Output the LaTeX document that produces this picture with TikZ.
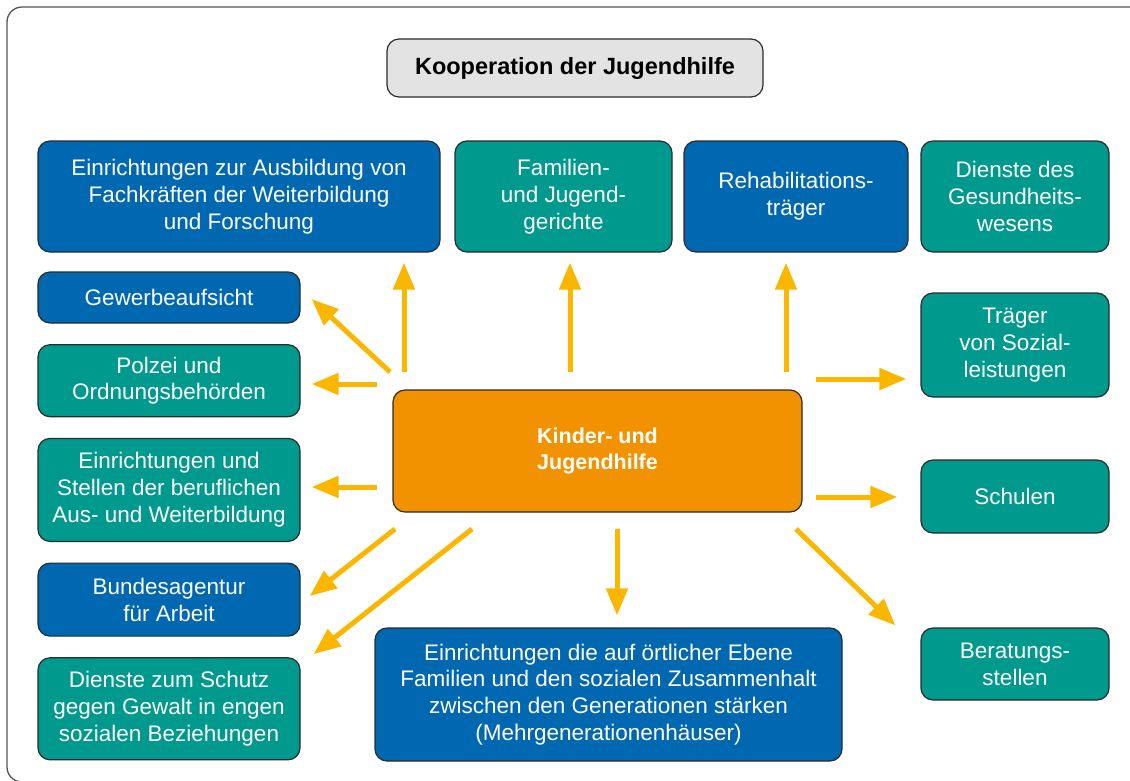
\documentclass[tikz,border=0pt]{standalone}
\usepackage{fontspec}
\setmainfont{Liberation Sans}
\usetikzlibrary{positioning}
\usetikzlibrary{calc}
\usetikzlibrary{arrows.meta}
\definecolor{kjblue}{HTML}{0067B1}
\definecolor{kjteal}{HTML}{00998D}
\definecolor{kjorange}{HTML}{F39200}
\definecolor{kjyellow}{HTML}{FBB600}
\definecolor{kjgrey}{HTML}{E3E3E3}
\definecolor{kjline}{HTML}{2B2B2B}
\tikzset{
	x=1pt, y=-1pt,
	node distance = 20.5pt and 20.5pt,
	box/.style = {draw=kjline, line width=1.2pt, rounded corners=12pt, text=white,
		align=center, inner sep=0pt, font=\fontsize{22.5}{26.8}\selectfont},
	bluebox/.style = {box, fill=kjblue},
	tealbox/.style = {box, fill=kjteal},
	arr/.style = {-{Triangle[length=27pt,width=21pt]}, line width=5pt, draw=kjyellow},
	frame/.style = {draw=kjline!80, line width=1.3pt, rounded corners=15pt}
}

\begin{document}
\begin{tikzpicture}
	\useasboundingbox (0,0) rectangle (1130,780);
	\begin{scope}
		\clip (0,0) rectangle (1130,780);
		\draw[frame] (7,7) rectangle (1150,782);
	\end{scope}
	
	% Title
	\node (title) [box, fill=kjgrey, text=black, font=\fontsize{23.5}{27}\selectfont\bfseries,
		minimum width=376pt, minimum height=58pt] at (575,68) {Kooperation der Jugendhilfe};
	
	% top row
	\node (ausb) [bluebox, minimum width=402pt, minimum height=111pt] at (239,196.5)
		{Einrichtungen zur Ausbildung von\\Fachkräften der Weiterbildung\\und Forschung};
	\node (fam) [tealbox, minimum width=217pt, minimum height=111pt] at (563.5,196.5)
		{Familien-\\und Jugend-\\gerichte};
	\node (reha) [bluebox, minimum width=224pt, minimum height=111pt] at (796,196.5)
		{Rehabilitations-\\träger};
	\node (gesund) [tealbox, minimum width=188pt, minimum height=111pt] at (1015,196.5)
		{Dienste des\\Gesundheits-\\wesens};
	
	% left column
	\node (gewerbe) [bluebox, minimum width=262pt, minimum height=51pt] at (169,297.5)
		{Gewerbeaufsicht};
	\node (polizei) [tealbox, minimum width=262pt, minimum height=72pt, below = of gewerbe]
		{Polzei und\\Ordnungsbehörden};
	\node (beruf) [tealbox, minimum width=262pt, minimum height=103pt, below = of polizei]
		{Einrichtungen und\\Stellen der beruflichen\\Aus- und Weiterbildung};
	\node (arbeit) [bluebox, minimum width=262pt, minimum height=73pt, below = of beruf]
		{Bundesagentur\\für Arbeit};
	\node (schutz) [tealbox, minimum width=262pt, minimum height=102pt, below = of arbeit]
		{Dienste zum Schutz\\gegen Gewalt in engen\\sozialen Beziehungen};
	
	% right column
	\node (sozial) [tealbox, minimum width=188pt, minimum height=104pt] at (1015,345)
		{Träger\\von Sozial-\\leistungen};
	\node (schulen) [tealbox, minimum width=188pt, minimum height=73pt] at (1015,496.5)
		{Schulen};
	\node (berat) [tealbox, minimum width=188pt, minimum height=72pt] at (1015,664)
		{Beratungs-\\stellen};
	
	% centre
	\node (kjh) [box, fill=kjorange, font=\fontsize{21.5}{26.5}\selectfont\bfseries,
		minimum width=409pt, minimum height=122pt] at (597.5,451) {Kinder- und\\Jugendhilfe};
	\node (mgh) [bluebox, minimum width=467pt, minimum height=133pt] at (608.5,694.5)
		{Einrichtungen die auf örtlicher Ebene\\Familien und den sozialen Zusammenhalt\\zwischen den Generationen stärken\\(Mehrgenerationenhäuser)};
	
	% arrows
	\coordinate (toausb) at (404,372);
	\coordinate (tofam) at (570,372);
	\coordinate (toreha) at (786,372);
	\coordinate (togew) at (390,372);
	\coordinate (topol) at (377,384);
	\coordinate (tober) at (377,487);
	\coordinate (toarb) at (395,529);
	\coordinate (tosch) at (472,529);
	\coordinate (tomgh) at (617,529);
	\coordinate (tosoz) at (816,379);
	\coordinate (toschul) at (816,497);
	\coordinate (tober2) at (796,529);
	
	\draw[arr, shorten >=10pt] (toausb) -- (toausb |- ausb.south);
	\draw[arr, shorten >=10pt] (tofam) -- (tofam |- fam.south);
	\draw[arr, shorten >=10pt] (toreha) -- (toreha |- reha.south);
	\draw[arr] (togew) -- ($(gewerbe.east)+(11,1.5)$);
	\draw[arr, shorten >=11pt] (topol) -- (topol -| polizei.east);
	\draw[arr, shorten >=11pt] (tober) -- (tober -| beruf.east);
	\draw[arr] (toarb) -- ($(arbeit.east)+(9,-3.5)$);
	\draw[arr] (tosch) -- ($(schutz.north east)+(13,-3)$);
	\draw[arr, shorten >=12pt] (tomgh) -- (tomgh |- mgh.north);
	\draw[arr, shorten >=14pt] (tosoz) -- (tosoz -| sozial.west);
	\draw[arr, shorten >=23pt] (toschul) -- (toschul -| schulen.west);
	\draw[arr] (tober2) -- ($(berat.north west)+(-25,-2)$);
	
\end{tikzpicture}
\end{document}
